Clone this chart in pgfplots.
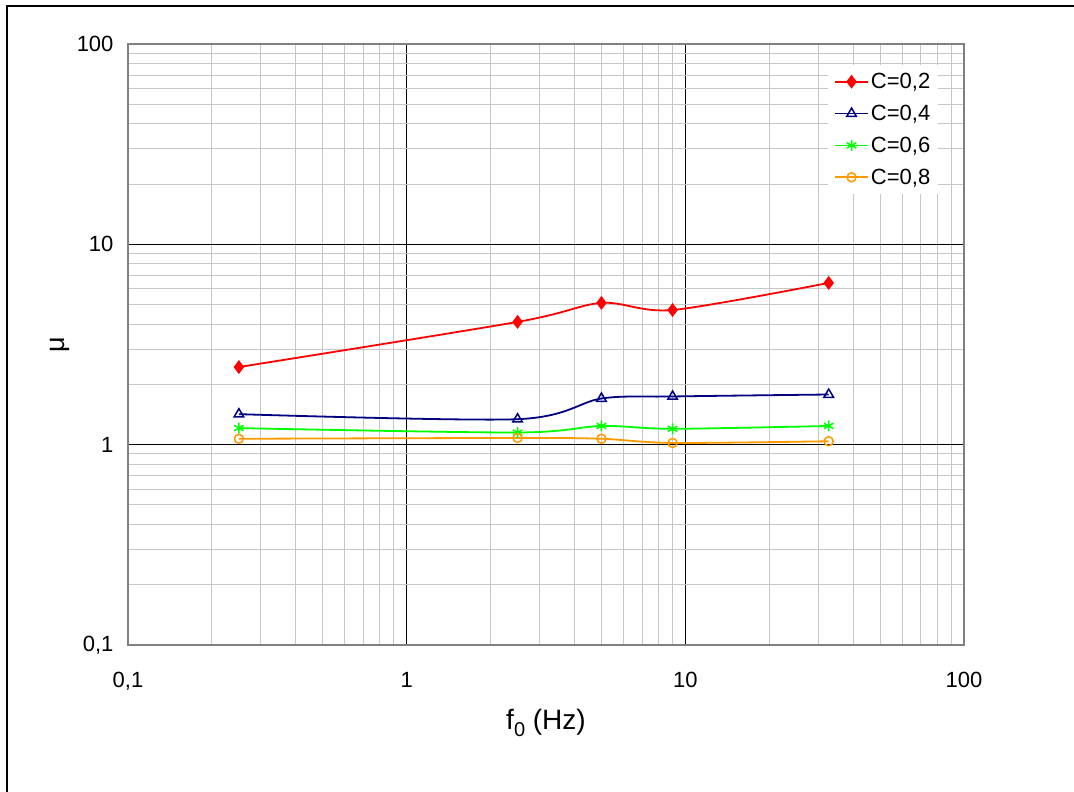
\documentclass[border=0pt]{standalone}
\usepackage{pgfplots}
\pgfplotsset{compat=1.18}
\usepackage{fontspec}
\setmainfont{Liberation Sans}

% Friction coefficient against natural frequency for four damping ratios
\pgfplotstableread{
f     mu
0.25  2.44
2.5   4.10
5     5.10
9     4.70
32.7  6.42
}\cTwo
\pgfplotstableread{
f     mu
0.25  1.42
2.5   1.34
5     1.70
9     1.74
32.7  1.78
}\cFour
\pgfplotstableread{
f     mu
0.25  1.21
2.5   1.15
5     1.24
9     1.20
32.7  1.24
}\cSix
\pgfplotstableread{
f     mu
0.25  1.07
2.5   1.08
5     1.07
9     1.02
32.7  1.04
}\cEight

\definecolor{cRed}{HTML}{FF0000}
\definecolor{cNavy}{HTML}{000080}
\definecolor{cGreen}{HTML}{00FF00}
\definecolor{cOrange}{HTML}{FF9900}

\begin{document}
\begin{tikzpicture}
\path[use as bounding box] (0pt,0pt) rectangle (1074pt,792pt);
\draw[line width=2.5pt] (7pt,-3pt) -- (7pt,786pt) -- (1077pt,786pt);
\begin{axis}[
  at={(128pt,147pt)}, anchor=south west,
  scale only axis, width=836pt, height=601pt,
  xmode=log, ymode=log,
  xmin=0.1, xmax=100, ymin=0.1, ymax=100,
  xtick={0.1,1,10,100}, ytick={0.1,1,10,100},
  log ticks with fixed point,
  /pgf/number format/.cd, use comma, assume math mode=true, 1000 sep={},
  /pgfplots/.cd,
  grid=both,
  minor grid style={draw=black!22, line width=1pt},
  major grid style={draw=black, line width=1pt},
  axis line style={draw=black!50, line width=1.5pt},
  major tick length=0pt, minor tick length=0pt,
  tick label style={font=\fontsize{22}{26}\selectfont},
  xticklabel style={yshift=-24pt},
  yticklabel style={xshift=-11pt},
  xlabel={f\raisebox{-0.25em}{\fontsize{20}{24}\selectfont 0} (Hz)},
  ylabel={μ},
  every axis x label/.style={at={(axis description cs:0.5,-0.13)}, anchor=center, font=\fontsize{28}{32}\selectfont},
  every axis y label/.style={at={(axis description cs:-0.0813,0.5)}, anchor=center, rotate=90, font=\fontsize{27}{32}\selectfont},
  legend style={at={(axis cs:32.5,78.5)}, anchor=north west, draw=none, fill=white,
    font=\fontsize{22}{26}\selectfont, row sep=11pt, inner sep=6pt},
  legend cell align=left,
  legend image code/.code={%
    \draw[mark repeat=2, mark phase=2, line width=1.8pt]
      plot coordinates {(0pt,0pt) (16.5pt,0pt) (33pt,0pt)};},
  every axis plot/.append style={line width=1.8pt, smooth, tension=0.5},
]
\addplot[cRed, mark=diamond*, mark size=5.5pt, mark options={fill=cRed}] table {\cTwo};
\addlegendentry{C=0,2}
\addplot[cNavy, mark=triangle, mark size=5.5pt, mark options={line width=1.5pt}] table {\cFour};
\addlegendentry{C=0,4}
\addplot[cGreen, mark=asterisk, mark size=5.5pt, mark options={line width=1.5pt}] table {\cSix};
\addlegendentry{C=0,6}
\addplot[cOrange, mark=o, mark size=4.5pt, mark options={line width=1.5pt}] table {\cEight};
\addlegendentry{C=0,8}
\end{axis}
\end{tikzpicture}
\end{document}
